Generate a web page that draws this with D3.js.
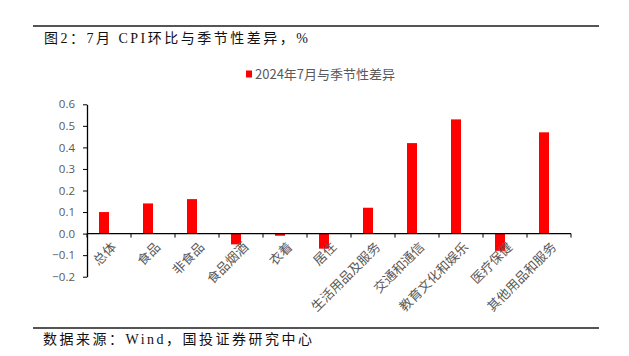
<!DOCTYPE html>
<html><head><meta charset="utf-8">
<script src="https://cdn.jsdelivr.net/npm/d3@7"></script>
<style>body{margin:0;background:#fff;}svg{display:block;}</style>
</head><body>
<script>
const categories = ["总体","食品","非食品","食品烟酒","衣着","居住","生活用品及服务","交通和通信","教育文化和娱乐","医疗保健","其他用品和服务"];
const values = [0.10,0.14,0.16,-0.05,-0.01,-0.07,0.12,0.42,0.53,-0.08,0.47];
const seriesName = "2024年7月与季节性差异";
const yTicks = [-0.2,-0.1,0.0,0.1,0.2,0.3,0.4,0.5,0.6];
const titleText = "图2：7月 CPI环比与季节性差异，%";
const sourceText = "数据来源：Wind，国投证券研究中心";

(function(){
const W=629,H=356;
const svg=d3.select("body").append("svg").attr("width",W).attr("height",H);
const pl=87,pr=571,pt=104.3,pb=276.7;
const y=d3.scaleLinear().domain([-0.2,0.6]).range([pb,pt]);
const x=d3.scaleBand().domain(categories).range([pl,pr]).paddingInner(24/44).paddingOuter(12/44);
const sub=d3.scaleBand().domain([0,1]).range([0,x.bandwidth()]);
const step=x.step();

// rules
svg.append("line").attr("x1",33).attr("x2",599).attr("y1",26).attr("y2",26).attr("stroke","#555").attr("stroke-width",2);
svg.append("line").attr("x1",33).attr("x2",599).attr("y1",328).attr("y2",328).attr("stroke","#555").attr("stroke-width",2);
svg.append("text").attr("x",44).attr("y",43).attr("font-family","'Liberation Serif','Noto Sans CJK SC',serif").attr("font-size",14).attr("letter-spacing",2.5).attr("fill","#111").text(titleText);
svg.append("text").attr("x",43).attr("y",344).attr("font-family","'Liberation Serif','Noto Sans CJK SC',serif").attr("font-size",14).attr("letter-spacing",2.5).attr("fill","#111").text(sourceText);

// legend
svg.append("rect").attr("x",246).attr("y",70.5).attr("width",6).attr("height",7).attr("fill","#FF0000");
svg.append("text").attr("x",255).attr("y",78.5).attr("font-family","'Noto Sans CJK SC',sans-serif").attr("font-size",13).attr("fill","#595959").text(seriesName);

// y axis
const ya=svg.append("g").attr("transform",`translate(${pl},0)`)
 .call(d3.axisLeft(y).tickValues(yTicks).tickFormat(d3.format(".1f")).tickSize(4).tickSizeOuter(0));
ya.select(".domain").attr("stroke","#000").attr("stroke-width",1.3);
ya.selectAll(".tick line").attr("stroke","#000");
ya.selectAll(".tick text").attr("fill","#595959").attr("font-size",11.5).attr("font-family","'Open Sans','Liberation Sans',sans-serif").attr("x",-12);

// bars
svg.append("g").selectAll("rect").data(values).join("rect")
 .attr("x",(d,i)=>x(categories[i])+sub(0))
 .attr("width",sub.bandwidth())
 .attr("y",d=>y(Math.max(0,d)))
 .attr("height",d=>Math.abs(y(d)-y(0)))
 .attr("fill","#FF0000");

// x axis line
const y0=y(0);
svg.append("line").attr("x1",pl).attr("x2",pr).attr("y1",y0).attr("y2",y0).attr("stroke","#000").attr("stroke-width",1.3);
const bounds=categories.map(c=>x(c)-(step-x.bandwidth())/2).concat([pr]);
svg.append("g").selectAll("line").data(bounds).join("line")
 .attr("x1",d=>d).attr("x2",d=>d).attr("y1",y0).attr("y2",y0+4).attr("stroke","#000");

// x labels
svg.append("g").selectAll("text").data(categories).join("text")
 .attr("transform",c=>`translate(${x(c)+x.bandwidth()/2+5},${y0+11}) rotate(-45)`)
 .attr("text-anchor","end").attr("dy","0.35em")
 .attr("font-family","'Noto Sans CJK SC',sans-serif").attr("font-size",13).attr("fill","#595959")
 .text(c=>c);
})();
</script>
</body></html>
